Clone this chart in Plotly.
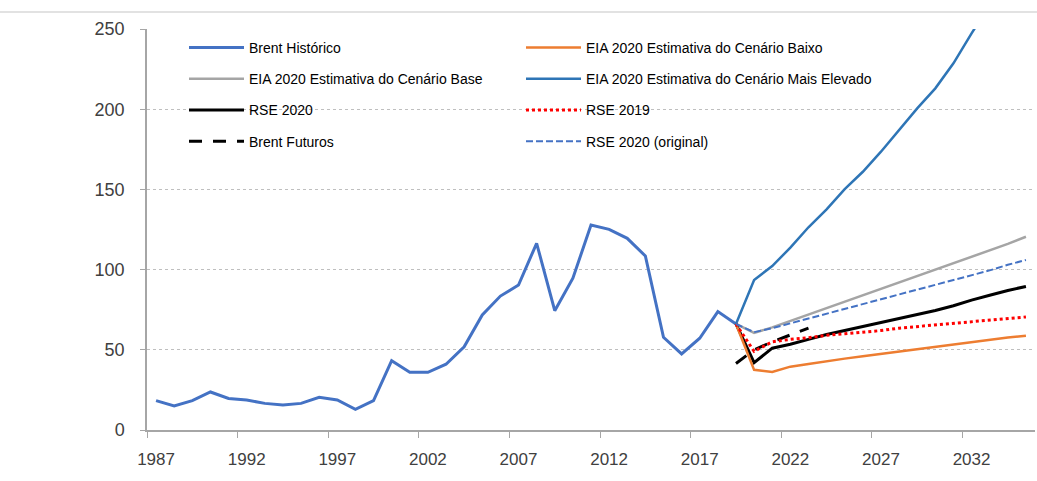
import plotly.graph_objects as go

# ---- data ----
hist_years = list(range(1987, 2020))
brent_hist = [18.3, 15.0, 18.3, 23.7, 19.7, 18.7, 16.6, 15.6, 16.6, 20.4, 18.7, 12.9, 18.3,
              43.2, 36.0, 36.0, 41.0, 51.9, 71.7, 83.5, 90.4, 116.4, 74.4, 94.6, 127.8,
              125.1, 119.5, 108.5, 57.8, 47.4, 57.2, 73.8, 66.1]

fc_years = list(range(2019, 2036))
eia_low = [66.1, 37.5, 36.2, 39.5, 41.2, 43.0, 44.5, 46.0, 47.5, 49.0, 50.5, 52.0, 53.5, 55.0, 56.5, 57.7, 58.8]
eia_base = [66.1, 60.5, 64.0, 68.0, 72.0, 76.0, 80.0, 84.0, 88.0, 92.0, 96.0, 100.0, 104.0, 108.0, 112.0, 116.0, 120.5]
eia_high = [66.1, 93.5, 102.2, 113.7, 126.4, 137.6, 150.2, 161.0, 173.5, 187.0, 200.5, 213.0, 228.6, 247.3, 265.0, 283.0, 300.0]
rse_2020 = [66.1, 42.0, 51.0, 53.5, 56.5, 59.5, 62.0, 64.5, 67.0, 69.5, 72.0, 74.5, 77.5, 81.0, 84.0, 87.0, 89.5]
rse_2019 = [66.1, 49.0, 55.0, 56.5, 57.5, 59.0, 60.0, 61.0, 62.0, 63.5, 64.5, 65.5, 66.5, 67.5, 68.5, 69.5, 70.5]
rse_2020_orig = [66.1, 61.0, 63.5, 66.5, 69.5, 72.5, 75.5, 78.5, 81.5, 84.5, 87.5, 90.5, 93.5, 96.5, 99.5, 103.0, 106.0]

fut_years = list(range(2019, 2024))
brent_futures = [41.5, 50.0, 55.0, 59.5, 63.5]

all_years = [str(y) for y in range(1987, 2036)]
y_ticks = [0, 50, 100, 150, 200, 250]

FONT = "Liberation Sans, Arial, sans-serif"

def s(lst):
    return [str(v) for v in lst]

fig = go.Figure()

# left legend column
fig.add_trace(go.Scatter(x=s(hist_years), y=brent_hist, mode="lines", name="Brent Histórico",
                         line=dict(color="#4472C4", width=3), legend="legend", legendgroup="g1"))
fig.add_trace(go.Scatter(x=s(fc_years), y=eia_base, mode="lines", name="EIA 2020 Estimativa do Cenário Base",
                         line=dict(color="#A5A5A5", width=2.5), legend="legend", legendgroup="g2"))
fig.add_trace(go.Scatter(x=s(fc_years), y=rse_2020, mode="lines", name="RSE 2020",
                         line=dict(color="#000000", width=3), legend="legend", legendgroup="g3"))
fig.add_trace(go.Scatter(x=s(fut_years), y=brent_futures, mode="lines", name="Brent Futuros",
                         line=dict(color="#000000", width=3, dash="13px,11px"), legend="legend", legendgroup="g4"))
# right legend column
fig.add_trace(go.Scatter(x=s(fc_years), y=eia_low, mode="lines", name="EIA 2020 Estimativa do Cenário Baixo",
                         line=dict(color="#ED7D31", width=2.5), legend="legend2", legendgroup="g5"))
fig.add_trace(go.Scatter(x=s(fc_years), y=eia_high, mode="lines", name="EIA 2020 Estimativa do Cenário Mais Elevado",
                         line=dict(color="#2E75B6", width=2.5), legend="legend2", legendgroup="g6"))
fig.add_trace(go.Scatter(x=s(fc_years), y=rse_2019, mode="lines", name="RSE 2019",
                         line=dict(color="#FF0000", width=3, dash="3px,3px"), legend="legend2", legendgroup="g7"))
fig.add_trace(go.Scatter(x=s(fc_years), y=rse_2020_orig, mode="lines", name="RSE 2020 (original)",
                         line=dict(color="#4472C4", width=2, dash="7px,3px"), legend="legend2", legendgroup="g8"))

W, H = 1037, 481
ML, MR, MT, MB = 147, 2, 29, 51
pw = W - ML - MR
ph = H - MT - MB

def px(xp):
    return (xp - ML) / pw

def py(yp):
    return 1 - (yp - MT) / ph

legend_common = dict(
    orientation="v", bgcolor="rgba(0,0,0,0)", borderwidth=0,
    font=dict(family=FONT, size=14, color="#000000"),
    tracegroupgap=10, itemwidth=55, xanchor="left", yanchor="top",
    traceorder="grouped",
)

fig.update_layout(
    width=W, height=H,
    margin=dict(l=ML, r=MR, t=MT, b=MB, autoexpand=False),
    paper_bgcolor="white", plot_bgcolor="white",
    font=dict(family=FONT, color="#404040"),
    legend=dict(x=px(184), y=py(32), **legend_common),
    legend2=dict(x=px(521), y=py(32), **legend_common),
    xaxis=dict(
        type="category", categoryorder="array", categoryarray=all_years,
        range=[-0.5, len(all_years) - 0.5],
        tickmode="linear", tick0=0, dtick=5, tickson="boundaries",
        ticks="outside", ticklen=6, tickcolor="#A6A6A6", tickwidth=1.3,
        showline=True, linecolor="#A6A6A6", linewidth=1.5,
        showgrid=False, zeroline=False, automargin=False, tickangle=0,
        tickfont=dict(family=FONT, size=17, color="#404040"),
        ticklabelstandoff=13,
    ),
    yaxis=dict(
        range=[0, 250], tickvals=y_ticks,
        ticks="outside", ticklen=5, tickcolor="#A6A6A6", tickwidth=1.3,
        showline=True, linecolor="#A6A6A6", linewidth=1.5,
        showgrid=True, gridcolor="#BFBFBF", griddash="3px,3px", gridwidth=1.3,
        zeroline=False, automargin=False,
        tickfont=dict(family=FONT, size=18, color="#404040"),
        ticklabelstandoff=12,
    ),
    shapes=[dict(type="line", xref="paper", yref="paper", x0=px(0), x1=px(W), y0=py(12), y1=py(12),
                 line=dict(color="#D9D9D9", width=1.5))],
)

fig.write_html("out.html", config={"displayModeBar": False},
               post_script="document.body.style.margin='0';")
